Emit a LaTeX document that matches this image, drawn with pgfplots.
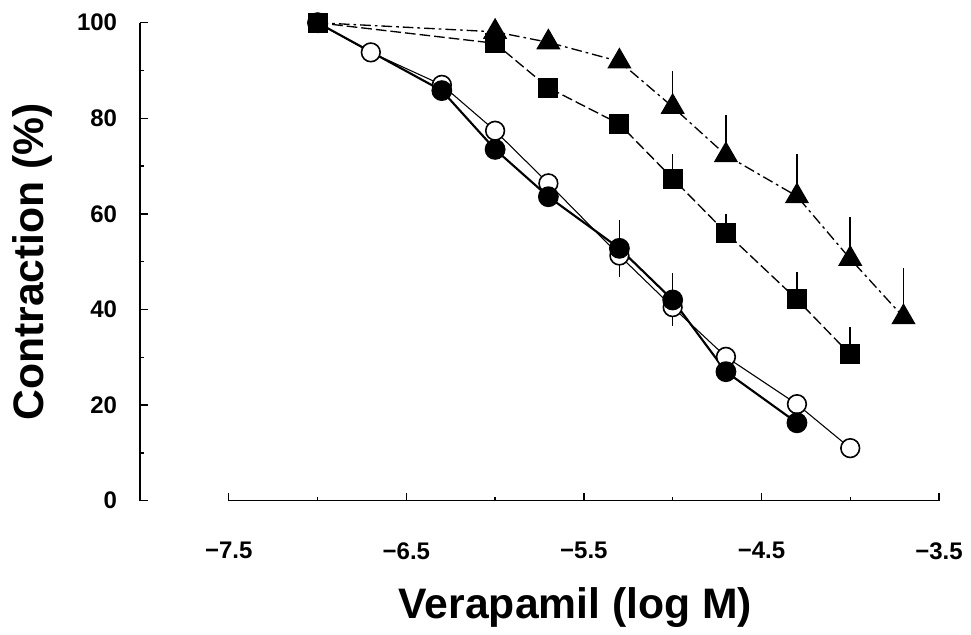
\documentclass[border=0pt]{standalone}
\usepackage{pgfplots}
\pgfplotsset{compat=1.18}
\usepackage{fontspec}
\setmainfont{Liberation Sans}
\begin{document}
\begin{tikzpicture}
\begin{axis}[
  scale only axis, width=599.25pt, height=358.5pt,
  xmin=-8, xmax=-3.5, ymin=0, ymax=100,
  axis lines*=left,
  x axis line style={draw=none},
  y axis line style={line width=1pt},
  clip=false,
  xtick={-7.5,-6.5,-5.5,-4.5,-3.5},
  xticklabels={{\char"2212 7.5},{\char"2212 6.5},{\char"2212 5.5},{\char"2212 4.5},{\char"2212 3.5}},
  minor xtick={-7,-6,-5,-4},
  ytick={0,20,40,60,80,100},
  minor ytick={10,30,50,70,90},
  tick align=inside,
  major tick length=6pt, minor tick length=3pt,
  every tick/.style={black, line width=1pt},
  /pgf/number format/assume math mode=true,
  ticklabel style={font=\bfseries\fontsize{18}{20}\selectfont},
  yticklabel style={anchor=east, inner sep=0pt, xshift=-17pt},
  xticklabel style={anchor=north, inner sep=0pt, yshift=-31pt},
  xlabel={Verapamil (log M)},
  ylabel={Contraction (\%)},
  label style={font=\bfseries\fontsize{32}{35}\selectfont},
  xlabel style={at={(rel axis cs:0.545,0)}, anchor=base, yshift=-88pt},
  ylabel style={at={(rel axis cs:-0.1352,0.5)}, anchor=center},
]
\coordinate (O) at (rel axis cs:0,0);
\draw[black, line width=1pt] (axis cs:-7.5,0) -- (axis cs:-3.5,0);

% open circles
\addplot[black, line width=0.8pt, mark=*, mark size=7pt,
  mark options={fill=white, draw=black, line width=1.2pt, solid},
  error bars/.cd, y dir=minus, y explicit, error mark=none,
  error bar style={line width=1.2pt, solid}]
  table[x=x, y=y, y error=e] {
x    y     e
-7.0 100.0 0
-6.7 93.8  0
-6.3 87.0  0
-6.0 77.4  0
-5.7 66.4  0
-5.3 51.3  4.5
-5.0 40.5  4.0
-4.7 30.1  0
-4.3 20.2  0
-4.0 11.0  0
};

% filled circles
\addplot[black, line width=1.6pt, mark=*, mark size=7pt,
  mark options={fill=black, draw=black, solid},
  error bars/.cd, y dir=plus, y explicit, error mark=none,
  error bar style={line width=1.2pt, solid}]
  table[x=x, y=y, y error=e] {
x    y     e
-7.0 100.0 0
-6.3 85.8  0
-6.0 73.5  0
-5.7 63.6  0
-5.3 52.8  5.9
-5.0 42.0  5.6
-4.7 27.0  0
-4.3 16.3  0
};

% triangles
\addplot[black, line width=1pt, dash pattern=on 8pt off 3pt on 2pt off 3pt,
  mark=triangle*, mark size=9.5pt, mark indices={2,3,4,5,6,7,8,9},
  mark options={fill=black, draw=black, solid},
  error bars/.cd, y dir=plus, y explicit, error mark=none,
  error bar style={line width=1.2pt, solid}]
  table[x=x, y=y, y error=e] {
x    y     e
-7.0 100.0 0
-6.0 98.1  0
-5.7 95.9  0
-5.3 91.9  0
-5.0 82.4  7.6
-4.7 72.3  8.4
-4.3 63.7  8.8
-4.0 50.6  8.8
-3.7 38.4  10.2
};

% squares
\addplot[black, line width=1pt, dash pattern=on 8pt off 3pt,
  mark=square*, mark size=7pt,
  mark options={fill=black, draw=black, solid},
  error bars/.cd, y dir=plus, y explicit, error mark=none,
  error bar style={line width=1.2pt, solid}]
  table[x=x, y=y, y error=e] {
x    y     e
-7.0 100.0 0
-6.0 95.7  0
-5.7 86.4  0
-5.3 78.8  0
-5.0 67.4  5.1
-4.7 56.1  3.9
-4.3 42.1  5.8
-4.0 30.6  5.8
};
\end{axis}
\pgfresetboundingbox
\path (O) ++(-105pt,-100.7pt) rectangle ++(728.25pt,476.25pt);
\end{tikzpicture}
\end{document}
